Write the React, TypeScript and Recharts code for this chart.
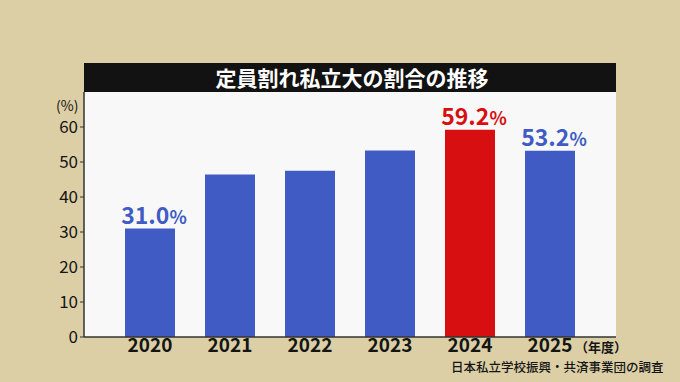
import { BarChart, Bar, XAxis, YAxis, CartesianGrid, Cell, LabelList } from 'recharts'

const years = ['2020', '2021', '2022', '2023', '2024', '2025']
const ratios = [31.0, 46.4, 47.5, 53.3, 59.2, 53.2]
const labelled = [true, false, false, false, true, true]
const yTicks = [0, 10, 20, 30, 40, 50, 60]

const title = '定員割れ私立大の割合の推移'
const source = '日本私立学校振興・共済事業団の調査'

const BLUE = '#405cc4'
const RED = '#d80f10'
const FONT = '"Noto Sans CJK JP", "Noto Sans", sans-serif'

const data = years.map((year, i) => ({ year, value: ratios[i], show: labelled[i] }))

function YearTick({ x, y, payload }: any) {
  return (
    <text x={x} y={y + 15} textAnchor="middle" fontSize={19} fontWeight={700} fill="#151515">
      {payload.value}
    </text>
  )
}

function ValueLabel(props: any) {
  const { x, y, width, index } = props
  const d = data[index]
  if (!d || !d.show) return null
  const color = d.year === '2024' ? RED : BLUE
  return (
    <text x={x + width / 2 + 4} y={y - 5} textAnchor="middle" fill={color} fontWeight={700}>
      <tspan fontSize={23}>{d.value.toFixed(1)}</tspan>
      <tspan fontSize={18}>%</tspan>
    </text>
  )
}

export default function App() {
  return (
    <div
      style={{
        position: 'absolute',
        left: 0,
        top: 0,
        width: 680,
        height: 382,
        background: '#dccfa5',
        fontFamily: FONT,
        overflow: 'hidden',
      }}
    >
      <div
        style={{
          position: 'absolute',
          left: 84,
          top: 63,
          width: 532,
          height: 29,
          background: '#121212',
          color: '#fff',
          fontSize: 21,
          fontWeight: 700,
          lineHeight: '29px',
          textAlign: 'center',
          paddingLeft: 4,
          boxSizing: 'border-box',
        }}
      >
        {title}
      </div>
      <BarChart
        width={680}
        height={382}
        data={data}
        margin={{ top: 92, right: 64, bottom: 0, left: 0 }}
        barCategoryGap={0}
      >
        <CartesianGrid fill="#f8f8f9" stroke="none" horizontal={false} vertical={false} />
        <XAxis
          dataKey="year"
          height={45}
          padding={{ left: 26, right: 26 }}
          axisLine={{ stroke: '#333', strokeWidth: 1.5 }}
          tickLine={false}
          tickSize={0}
          tickMargin={0}
          tick={<YearTick />}
        />
        <YAxis
          width={84}
          domain={[0, 70]}
          ticks={yTicks}
          allowDataOverflow
          axisLine={{ stroke: '#333', strokeWidth: 1.5 }}
          tickLine={{ stroke: '#333' }}
          tickSize={4}
          tickMargin={2}
          tick={{ fontSize: 17, fill: '#151515' }}
        />
        <Bar dataKey="value" barSize={50} isAnimationActive={false}>
          {data.map((d) => (
            <Cell key={d.year} fill={d.year === '2024' ? RED : BLUE} />
          ))}
          <LabelList dataKey="value" content={<ValueLabel />} />
        </Bar>
      </BarChart>
      <div style={{ position: 'absolute', left: 56, top: 98, fontSize: 14, lineHeight: 1, color: '#151515' }}>
        (%)
      </div>
      <div
        style={{ position: 'absolute', left: 575, top: 340, fontSize: 13, lineHeight: 1, fontWeight: 700, color: '#151515' }}
      >
        （年度）
      </div>
      <div
        style={{ position: 'absolute', left: 451, top: 361, fontSize: 12.5, lineHeight: 1, fontWeight: 500, color: '#151515' }}
      >
        {source}
      </div>
    </div>
  )
}
